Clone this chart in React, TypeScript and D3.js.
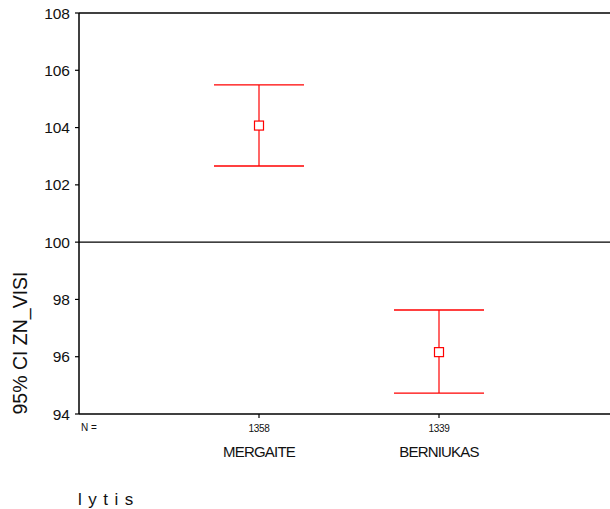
import React from "react";
import * as d3 from "d3";

const categories = ["MERGAITE", "BERNIUKAS"];
const counts = ["1358", "1339"];
const means = [104.07, 96.16];
const lowers = [102.66, 94.73];
const uppers = [105.49, 97.63];
const yTicks = [94, 96, 98, 100, 102, 104, 106, 108];

export default function App() {
  const W = 610, H = 509;
  const left = 79, top = 13, bottom = 414, right = 610;
  const y = d3.scaleLinear().domain([94, 108]).range([bottom, top]);
  const x = d3.scalePoint<string>().domain(["_a", ...categories, "_b"]).range([left, 619]);
  const font = "Arial, 'Liberation Sans', sans-serif";
  const red = "#ff0000";
  return (
    <svg width={W} height={H} style={{ position: "absolute", left: 0, top: 0, background: "#fff" }} fontFamily={font}>
      <line x1={left} x2={right} y1={top} y2={top} stroke="#000" strokeWidth={1.3} />
      <line x1={left} x2={right} y1={y(100)} y2={y(100)} stroke="#000" strokeWidth={1.3} />
      <line x1={left} x2={right} y1={bottom} y2={bottom} stroke="#000" strokeWidth={1.5} />
      <line x1={left} x2={left} y1={top} y2={bottom} stroke="#000" strokeWidth={1.5} />
      {yTicks.map((t) => (
        <g key={t}>
          <line x1={left - 4} x2={left} y1={y(t)} y2={y(t)} stroke="#000" strokeWidth={1.2} />
          <text x={left - 9} y={y(t)} dy="0.36em" textAnchor="end" fontSize={15.5} fill="#111">{t}</text>
        </g>
      ))}
      <text x={89} y={431} fontSize={10} textAnchor="middle" fill="#111">N =</text>
      {categories.map((c, i) => {
        const cx = x(c)!;
        return (
          <g key={c}>
            <line x1={cx} x2={cx} y1={bottom} y2={bottom + 4} stroke="#000" strokeWidth={1.2} />
            <text x={cx} y={432} fontSize={10} textAnchor="middle" fill="#111" letterSpacing={-0.3}>{counts[i]}</text>
            <text x={cx} y={457} fontSize={15} textAnchor="middle" fill="#111" letterSpacing={-0.8}>{c}</text>
            <line x1={cx} x2={cx} y1={y(uppers[i])} y2={y(lowers[i])} stroke={red} strokeWidth={1.2} />
            <line x1={cx - 45} x2={cx + 45} y1={y(uppers[i])} y2={y(uppers[i])} stroke={red} strokeWidth={1.4} />
            <line x1={cx - 45} x2={cx + 45} y1={y(lowers[i])} y2={y(lowers[i])} stroke={red} strokeWidth={1.4} />
            <rect x={cx - 4.5} y={y(means[i]) - 4.5} width={9} height={9} fill="#fff" stroke={red} strokeWidth={1.2} />
          </g>
        );
      })}
      <text transform={`translate(27,343) rotate(-90)`} textAnchor="middle" fontSize={19.5} fill="#111">95% CI ZN_VISI</text>
      <text x={78} y={505} fontSize={17} fill="#111" letterSpacing={6.5}>lytis</text>
    </svg>
  );
}
